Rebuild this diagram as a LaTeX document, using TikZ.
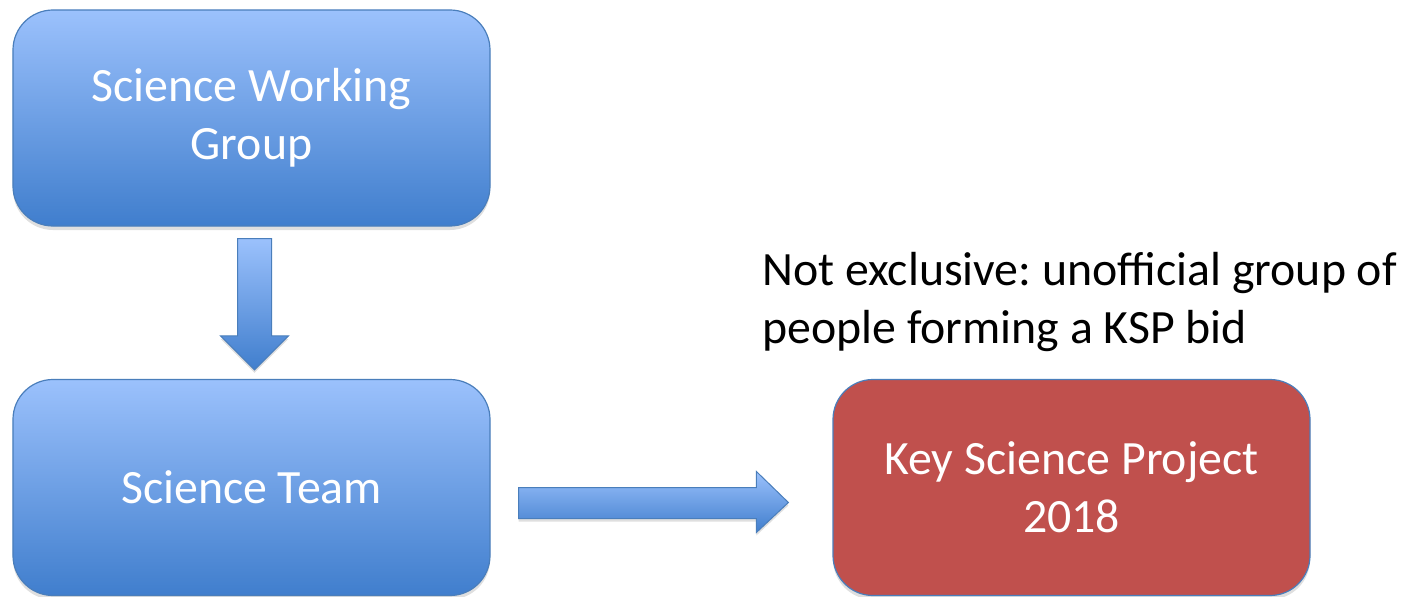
\documentclass[tikz,border=0pt]{standalone}
\usepackage{fontspec}
\setmainfont{Carlito}
\frenchspacing
\usetikzlibrary{calc,shadows}
\definecolor{topblue}{RGB}{155,193,252}
\definecolor{botblue}{RGB}{64,126,205}
\definecolor{boxline}{RGB}{74,126,187}
\definecolor{kspred}{RGB}{192,80,77}
\tikzset{
  basebox/.style={draw=boxline, line width=1.2bp, rounded corners=40bp,
    minimum width=477bp, minimum height=216bp, text=white, align=center,
    font=\fontsize{48}{58}\selectfont, inner sep=0pt,
    drop shadow={shadow xshift=0bp, shadow yshift=-4bp, opacity=0.25}},
  bluebox/.style={basebox, top color=topblue, bottom color=botblue},
  redbox/.style={basebox, fill=kspred},
  blockarrow/.style={draw=boxline, line width=1bp, top color=topblue, bottom color=botblue,
    drop shadow={shadow xshift=0bp, shadow yshift=-3bp, opacity=0.25}},
  note/.style={align=left, inner sep=0pt, font=\fontsize{48}{58}\selectfont, text=black, anchor=north west}
}
\begin{document}
\begin{tikzpicture}[x=1bp,y=-1bp]
\useasboundingbox (0,0) rectangle (1415,597);
\node[bluebox] (swg) at (251.5,118) {Science Working\\Group};
\node[bluebox] (st) at (251.5,487.5) {Science Team};
\node[redbox] (ksp) at (1071.5,487.5) {Key Science Project\\2018};
\node[note] (lbl) at (762,252) {Not exclusive: unofficial group of\\people forming a KSP bid};
% down block arrow
\path[blockarrow] ($(swg.south)+(-14,12)$) -- ($(swg.south)+(20,12)$) -- ($(st.north)+(20,-43)$)
  -- ($(st.north)+(37,-43)$) -- ($(st.north)+(3,-9)$) -- ($(st.north)+(-31,-43)$)
  -- ($(st.north)+(-14,-43)$) -- cycle;
% right block arrow
\path[blockarrow] ($(st.east)+(28,0)$) -- ($(ksp.west)+(-76,0)$) -- ($(ksp.west)+(-76,-16)$)
  -- ($(ksp.west)+(-44,15)$) -- ($(ksp.west)+(-76,45)$) -- ($(ksp.west)+(-76,31)$)
  -- ($(st.east)+(28,31)$) -- cycle;
\end{tikzpicture}
\end{document}
